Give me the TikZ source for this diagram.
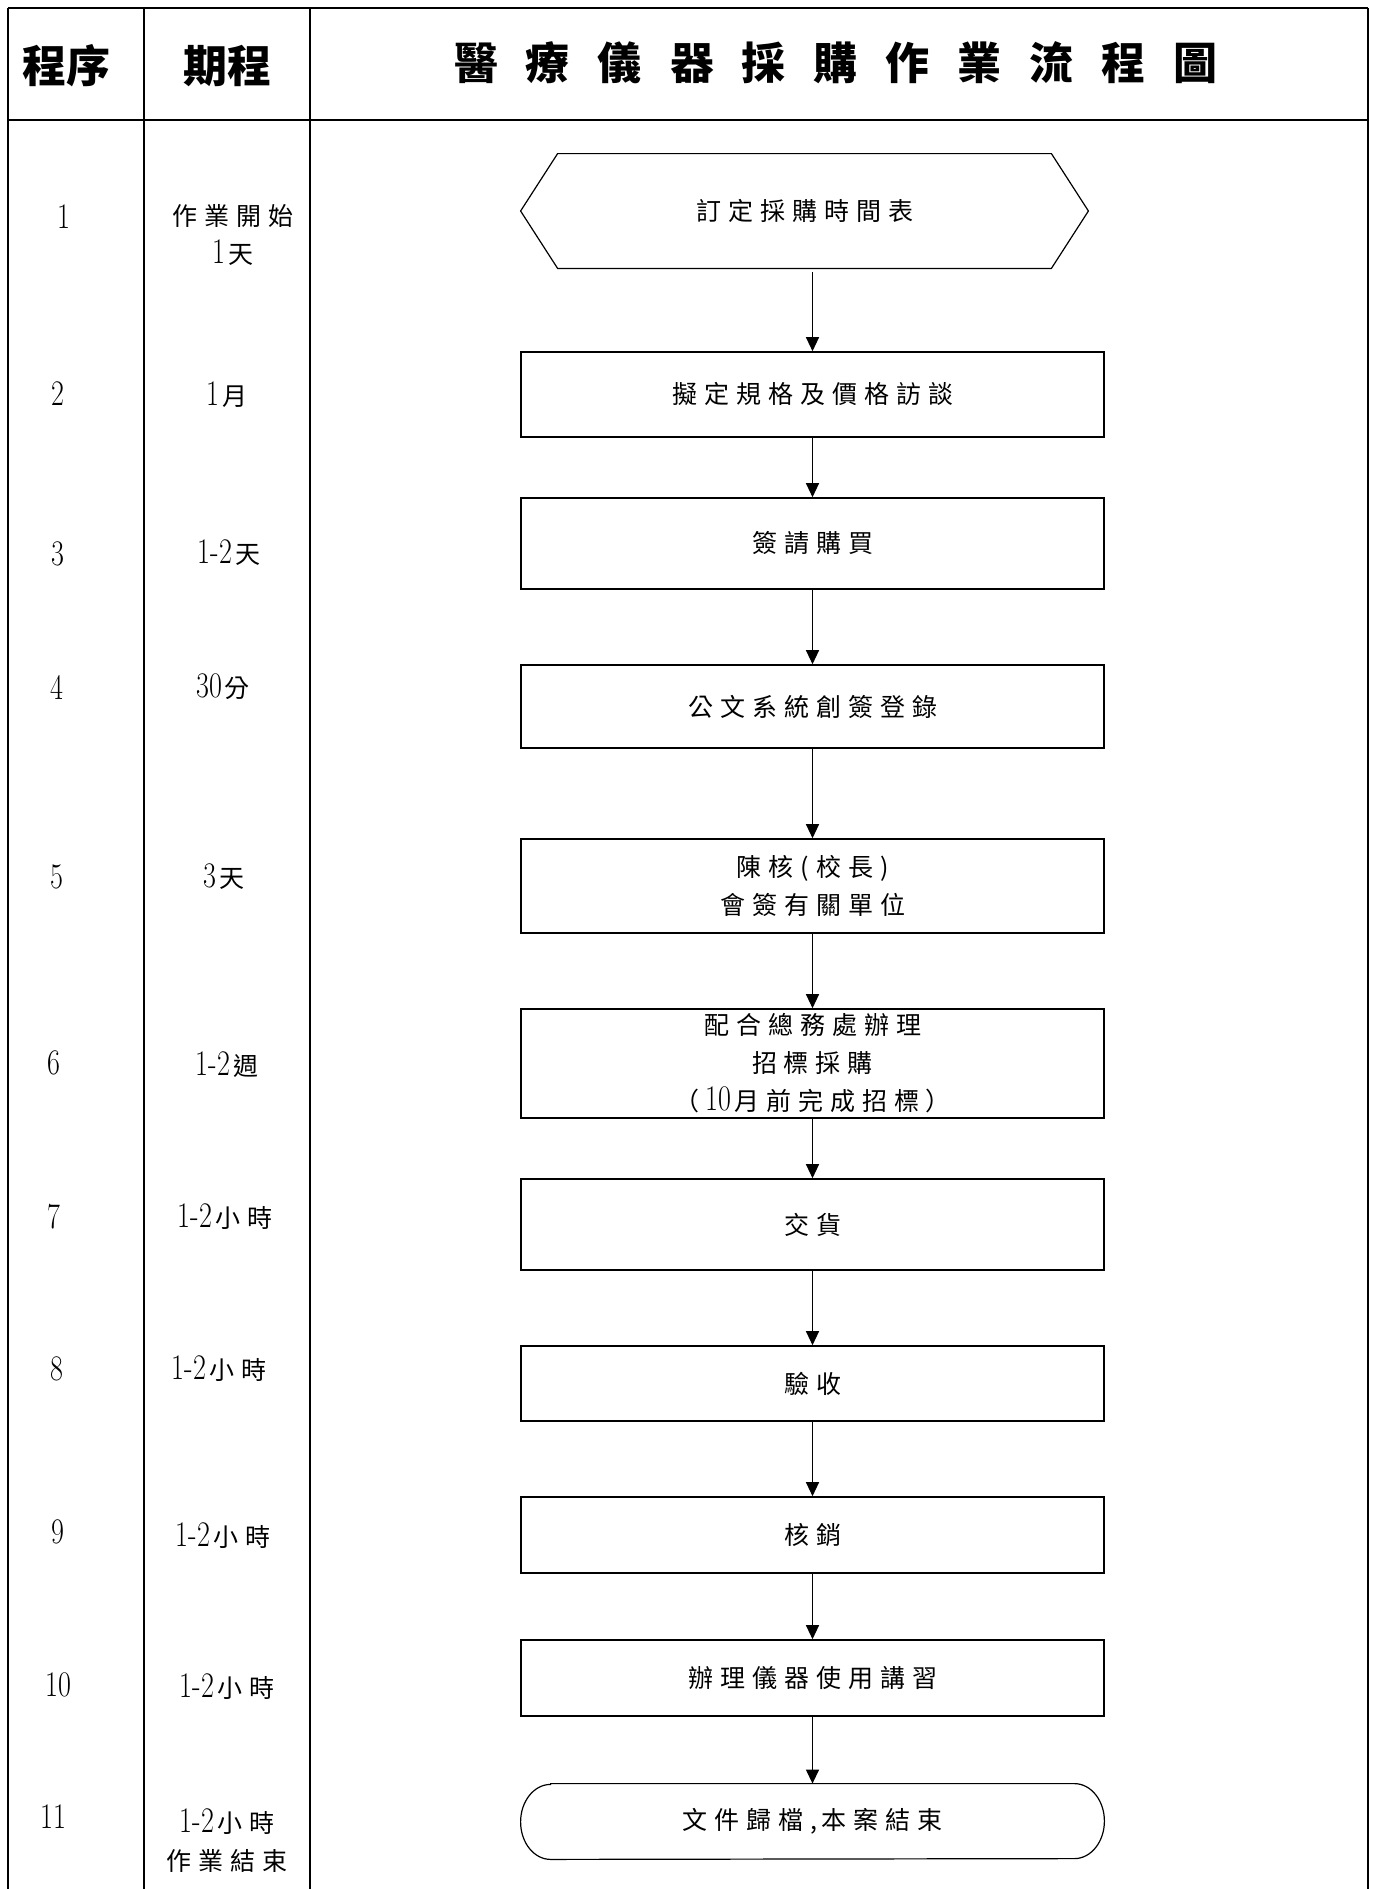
\documentclass[tikz,border=0pt]{standalone}
\usepackage{fontspec}
\newfontfamily\cjk{Noto Sans CJK TC}
\newfontfamily\cjks{Noto Sans CJK TC}[LetterSpace=28]
\usetikzlibrary{arrows.meta}
\newcommand\bodyfont{\cjks\fontsize{12.5pt}{19pt}\selectfont}
\newcommand\dgn[1]{{\rmfamily\fontsize{18pt}{19pt}\selectfont\scalebox{0.78}[1]{#1}}}
\newcommand\dg[1]{\dgn{#1}\hspace{1.5pt}}
\newcommand\tsp{\hspace{14pt}}
\begin{document}
\begin{tikzpicture}[x=0.5pt,y=-0.5pt,
  tbl/.style={line width=0.8pt},
  box/.style={draw,line width=0.8pt,minimum width=291.5pt,align=center,inner sep=0pt,font=\bodyfont},
  txt/.style={align=center,inner sep=0pt,font=\bodyfont},
  head/.style={inner sep=0pt,font=\cjk\bfseries\fontsize{22pt}{22pt}\selectfont},
  arr/.style={-{Triangle[width=6.5pt,length=7pt]},line width=0.6pt}]
\useasboundingbox (0,0) rectangle (1375,1889);
% table
\draw[tbl] (8,8) -- (1368,8);
\draw[tbl,line width=1pt] (8,120) -- (1368,120);
\draw[tbl] (8,8) -- (8,1889);
\draw[tbl] (144,8) -- (144,1889);
\draw[tbl] (310,8) -- (310,1889);
\draw[tbl] (1368,8) -- (1368,1889);
% header
\node[head] (h1) at (66,66) {程序};
\node[head] (h2) at (227,66) {期程};
\node[head] (h3) at (836,63) {醫\tsp 療\tsp 儀\tsp 器\tsp 採\tsp 購\tsp 作\tsp 業\tsp 流\tsp 程\tsp 圖};
% flow
\node[minimum width=283.5pt,minimum height=57pt,inner sep=0pt,font=\bodyfont] (n1) at (804.5,211) {訂定採購時間表};
\draw[line width=0.6pt] (n1.west) -- ([xshift=18.5pt]n1.north west) -- ([xshift=-18.5pt]n1.north east) -- (n1.east) -- ([xshift=-18.5pt]n1.south east) -- ([xshift=18.5pt]n1.south west) -- cycle;
\node[box,minimum height=42.5pt] (n2) at (812.5,394.5) {擬定規格及價格訪談};
\node[box,minimum height=45.5pt] (n3) at (812.5,543.5) {簽請購買};
\node[box,minimum height=41.5pt] (n4) at (812.5,706.5) {公文系統創簽登錄};
\node[box,minimum height=47pt] (n5) at (812.5,886) {陳核(校長)\\會簽有關單位};
\node[box,minimum height=54.5pt] (n6) at (812.5,1063.5) {配合總務處辦理\\招標採購\\（\hspace{3pt}\dg{10}月前完成招標\hspace{3pt}）};
\node[box,minimum height=45.5pt] (n7) at (812.5,1224.5) {交貨};
\node[box,minimum height=37.5pt] (n8) at (812.5,1383.5) {驗收};
\node[box,minimum height=38pt] (n9) at (812.5,1535) {核銷};
\node[box,minimum height=38pt] (n10) at (812.5,1678) {辦理儀器使用講習};
\node[txt,minimum width=291.5pt,minimum height=37.5pt] (n11) at (812.5,1821.5) {文件歸檔,\,本案結束};
\draw[line width=0.6pt] ([xshift=15pt]n11.north west) -- ([xshift=-15pt]n11.north east)
  arc[start angle=90,end angle=-90,x radius=15pt,y radius=18.75pt]
  -- ([xshift=15pt]n11.south west)
  arc[start angle=270,end angle=90,x radius=15pt,y radius=18.75pt] -- cycle;
\coordinate (s1) at (812.5,272);
\draw[arr] (s1) -- (n2.north);
\draw[arr] (n2.south) -- (n3.north);
\draw[arr] (n3.south) -- (n4.north);
\draw[arr] (n4.south) -- (n5.north);
\draw[arr] (n5.south) -- (n6.north);
\draw[arr] (n6.south) -- (n7.north);
\draw[arr] (n7.south) -- (n8.north);
\draw[arr] (n8.south) -- (n9.north);
\draw[arr] (n9.south) -- (n10.north);
\draw[arr] (n10.south) -- (n11.north);
% step numbers
\node[txt] (p1) at (64,217) {\dgn{1}};
\node[txt] (p2) at (58,394) {\dgn{2}};
\node[txt] (p3) at (58,554) {\dgn{3}};
\node[txt] (p4) at (57,687) {\dgn{4}};
\node[txt] (p5) at (57,877) {\dgn{5}};
\node[txt] (p6) at (54,1063) {\dgn{6}};
\node[txt] (p7) at (54,1217) {\dgn{7}};
\node[txt] (p8) at (57,1369) {\dgn{8}};
\node[txt] (p9) at (58,1532) {\dgn{9}};
\node[txt] (p10) at (58,1685) {\dgn{10}};
\node[txt] (p11) at (53,1817) {\dgn{11}};
% durations
\node[txt] (d1) at (233,235) {作業開始\\\dg{1}天};
\node[txt] (d2) at (227,395) {\dg{1}月};
\node[txt] (d3) at (229,553) {\dg{1-2}天};
\node[txt] (d4) at (223,687) {\dg{30}分};
\node[txt] (d5) at (224,877) {\dg{3}天};
\node[txt] (d6) at (227,1065) {\dg{1-2}週};
\node[txt] (d7) at (225,1217) {\dg{1-2}小時};
\node[txt] (d8) at (219,1369) {\dg{1-2}小時};
\node[txt] (d9) at (223,1536) {\dg{1-2}小時};
\node[txt] (d10) at (227,1687) {\dg{1-2}小時};
\node[txt] (d11) at (227,1841) {\dg{1-2}小時\\作業結束};
\end{tikzpicture}
\end{document}
